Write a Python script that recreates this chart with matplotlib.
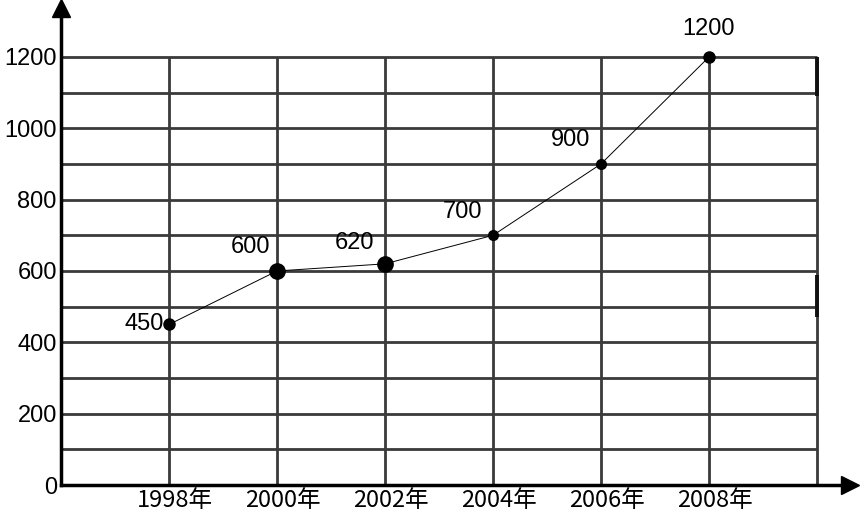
import matplotlib
matplotlib.use("Agg")
import matplotlib.pyplot as plt
from matplotlib.transforms import ScaledTranslation

# data
years = [1998, 2000, 2002, 2004, 2006, 2008]
values = [450, 600, 620, 700, 900, 1200]
year_labels = ["1998年", "2000年", "2002年", "2004年", "2006年", "2008年"]
y_ticks = [0, 200, 400, 600, 800, 1000, 1200]
grid_rows = [100, 200, 300, 400, 500, 600, 700, 800, 900, 1000, 1100, 1200]
grid_cols = [1998, 2000, 2002, 2004, 2006, 2008, 2010]

W, H = 862, 514
fig = plt.figure(figsize=(W / 100, H / 100), dpi=100)
# axes placed so that origin sits at pixel (61, 485)
ax = fig.add_axes([61 / W, (H - 485) / H, (850 - 61) / W, (485 - 8) / H])
ax.set_xlim(1996, 1996 + (850 - 61) / 54)
ax.set_ylim(0, (485 - 8) / 0.3567)

grid_c = "#3a3a3a"
ax.hlines(grid_rows, 1996, 2010, color=grid_c, lw=2, zorder=1)
ax.vlines(grid_cols, 0, 1200, color=grid_c, lw=2, zorder=1)
# darker bits on the right border
ax.vlines([2010, 2010], [1090, 470], [1200, 590], color="#111111", lw=2.8, zorder=1)

for s in ["top", "right"]:
    ax.spines[s].set_visible(False)
ax.spines["left"].set_linewidth(2.5)
ax.spines["bottom"].set_linewidth(2.5)

# arrow heads
ax.plot(0, 1, marker="^", color="black", ms=13, transform=ax.transAxes, clip_on=False)
ax.plot(1, 0, marker=">", color="black", ms=13, transform=ax.transAxes, clip_on=False)

# line and points
ax.plot(years, values, color="black", lw=0.7, zorder=3)
sizes = [8, 11, 11, 7, 7, 8]
for x, y, s in zip(years, values, sizes):
    ax.plot(x, y, "o", color="black", ms=s, zorder=4)

num_font = ["Liberation Sans", "DejaVu Sans"]
offsets = [(-4, 0, "right", "center"), (-5, 9, "right", "bottom"),
           (-8, 7, "right", "bottom"), (-8, 9, "right", "bottom"),
           (-8, 9, "right", "bottom"), (0, 12, "center", "bottom")]
for x, y, (dx, dy, ha, va) in zip(years, values, offsets):
    ax.annotate(str(y), (x, y), xytext=(dx, dy), textcoords="offset points",
                ha=ha, va=va, fontsize=17, family=num_font)

ax.set_yticks(y_ticks)
ax.set_yticklabels([str(v) for v in y_ticks], fontsize=17, family=num_font)
ax.set_xticks(years)
ax.set_xticklabels(year_labels, fontsize=17,
                   family=["Noto Sans CJK JP", "DejaVu Sans"])
ax.tick_params(length=0, pad=3)
shift = ScaledTranslation(6 / 100, 0, fig.dpi_scale_trans)
for lab in ax.get_xticklabels():
    lab.set_transform(lab.get_transform() + shift)

fig.savefig("out.png", dpi=100)
